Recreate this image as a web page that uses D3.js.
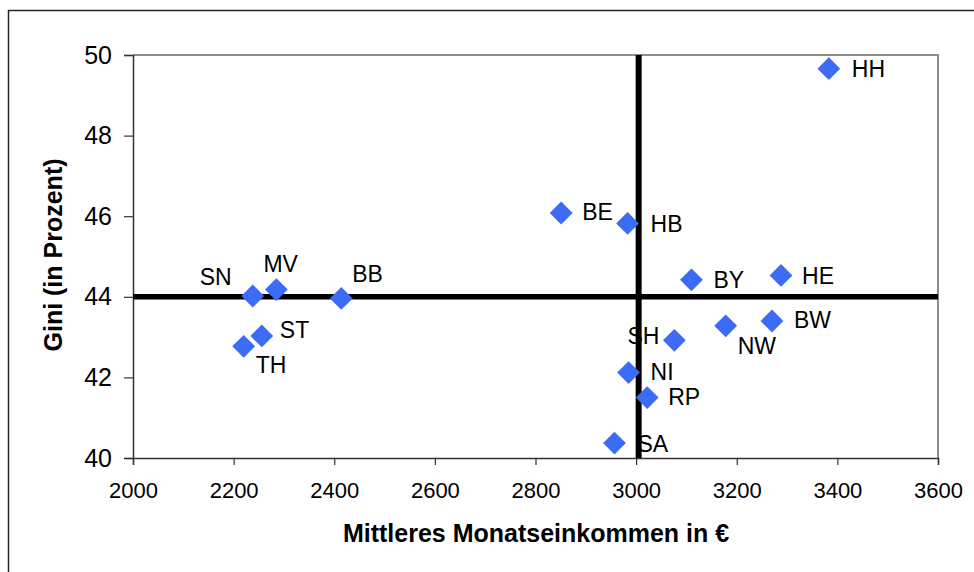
<!DOCTYPE html>
<html>
<head>
<meta charset="utf-8">
<script src="https://cdn.jsdelivr.net/npm/d3@7"></script>
<style>
  body { margin: 0; background: #fff; }
  svg { display: block; font-family: "Liberation Sans", Arial, sans-serif; }
</style>
</head>
<body>
<div id="chart"></div>
<script>
// Laender: mittleres Monatseinkommen vs. Gini
var codes  = ["HH", "BE", "HB", "BY", "HE", "BW", "NW", "SH", "NI", "RP", "SA", "SN", "MV", "BB", "ST", "TH"];
var income = [3383, 2851, 2983, 3110, 3288, 3270, 3178, 3076, 2985, 3022, 2957, 2238, 2285, 2414, 2256, 2220];
var gini   = [49.66, 46.08, 45.82, 44.42, 44.53, 43.40, 43.28, 42.92, 42.12, 41.50, 40.37, 44.02, 44.18, 43.96, 43.03, 42.77];
var xTicks = [2000, 2200, 2400, 2600, 2800, 3000, 3200, 3400, 3600];
var yTicks = [40, 42, 44, 46, 48, 50];
var meanIncome = 3005, meanGini = 44;

// where each label sits relative to its marker
var labelPos = {
  HH: [23, 0, "start"], BE: [21, -1, "start"], HB: [23, 0, "start"], BY: [22, 0, "start"],
  HE: [21, 0, "start"], BW: [22, -1, "start"], NW: [12, 20, "start"], SH: [-15, -5, "end"],
  NI: [22, -1, "start"], RP: [21, -1, "start"], SA: [23, 1, "start"], SN: [-21, -19, "end"],
  MV: [-13, -26, "start"], BB: [11, -25, "start"], ST: [18, -6, "start"], TH: [12, 18, "start"]
};

var W = 974, H = 572;
var margin = {top: 55, right: 36, bottom: 114, left: 133},
    width = W - margin.left - margin.right,
    height = H - margin.top - margin.bottom;

var svg = d3.select("#chart").append("svg")
    .attr("width", W)
    .attr("height", H);

// outer chart frame (runs off the picture at right/bottom)
svg.append("rect")
    .attr("x", 8.5).attr("y", 10.5)
    .attr("width", W).attr("height", H)
    .attr("fill", "none")
    .attr("stroke", "#222")
    .attr("stroke-width", 1.5);

var g = svg.append("g").attr("transform", "translate(" + margin.left + "," + margin.top + ")");

var x = d3.scaleLinear().domain([2000, 3600]).range([0, width]);
var y = d3.scaleLinear().domain([40, 50]).range([height, 0]);

// grey frame on top and right
g.append("path")
    .attr("d", "M0,0H" + width + "V" + height)
    .attr("fill", "none")
    .attr("stroke", "#8c8c8c")
    .attr("stroke-width", 2);

var xAxis = g.append("g")
    .attr("transform", "translate(0," + height + ")")
    .call(d3.axisBottom(x).tickValues(xTicks).tickSize(7).tickPadding(17).tickFormat(d3.format("d")));
xAxis.selectAll("text").attr("font-size", 22).attr("fill", "#000");

var yAxis = g.append("g")
    .call(d3.axisLeft(y).tickValues(yTicks).tickSize(9).tickPadding(12));
yAxis.selectAll("text").attr("font-size", 25).attr("fill", "#000");

g.selectAll(".domain").attr("stroke", "#333").attr("stroke-width", 1.5);
g.selectAll(".tick line").attr("stroke", "#333").attr("stroke-width", 1.2);

// quadrant lines
g.append("line")
    .attr("x1", x(meanIncome)).attr("x2", x(meanIncome))
    .attr("y1", 0).attr("y2", height)
    .attr("stroke", "#000").attr("stroke-width", 6);
g.append("line")
    .attr("x1", 0).attr("x2", width)
    .attr("y1", y(meanGini)).attr("y2", y(meanGini))
    .attr("stroke", "#000").attr("stroke-width", 5.5);

var pts = codes.map(function(c, i) { return {code: c, inc: income[i], gini: gini[i]}; });

var diamond = d3.symbol().type(d3.symbolSquare).size(260);

g.selectAll(".pt").data(pts).enter().append("path")
    .attr("class", "pt")
    .attr("d", diamond)
    .attr("transform", function(d) { return "translate(" + x(d.inc) + "," + y(d.gini) + ") rotate(45)"; })
    .attr("fill", "#3c6bf5");

g.selectAll(".lbl").data(pts).enter().append("text")
    .attr("class", "lbl")
    .attr("x", function(d) { return x(d.inc) + labelPos[d.code][0]; })
    .attr("y", function(d) { return y(d.gini) + labelPos[d.code][1]; })
    .attr("dy", "0.36em")
    .attr("text-anchor", function(d) { return labelPos[d.code][2]; })
    .attr("font-size", 23)
    .text(function(d) { return d.code; });

svg.append("text")
    .attr("x", 536).attr("y", 542)
    .attr("text-anchor", "middle")
    .attr("font-size", 25)
    .attr("font-weight", "bold")
    .text("Mittleres Monatseinkommen in €");

svg.append("text")
    .attr("transform", "translate(62,255) rotate(-90)")
    .attr("text-anchor", "middle")
    .attr("font-size", 25)
    .attr("font-weight", "bold")
    .text("Gini (in Prozent)");
</script>
</body>
</html>
